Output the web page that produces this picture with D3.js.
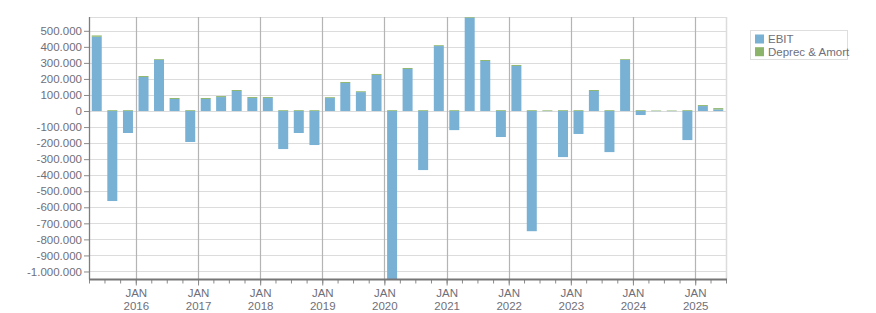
<!DOCTYPE html>
<html>
<head>
<meta charset="utf-8">
<script src="https://cdn.jsdelivr.net/npm/d3@7"></script>
<style>
  body { margin: 0; background: #fff; }
  svg { display: block; font-family: "Liberation Sans", Arial, sans-serif; }
</style>
</head>
<body>
<div id="chart"></div>
<script>
// quarter start of each bar
const quarters = [
  "2015-04", "2015-07", "2015-10",
  "2016-01", "2016-04", "2016-07", "2016-10",
  "2017-01", "2017-04", "2017-07", "2017-10",
  "2018-01", "2018-04", "2018-07", "2018-10",
  "2019-01", "2019-04", "2019-07", "2019-10",
  "2020-01", "2020-04", "2020-07", "2020-10",
  "2021-01", "2021-04", "2021-07", "2021-10",
  "2022-01", "2022-04", "2022-07", "2022-10",
  "2023-01", "2023-04", "2023-07", "2023-10",
  "2024-01", "2024-04", "2024-07", "2024-10",
  "2025-01", "2025-04"
];
const ebit = [
  463000, -561000, -137000,
  212000, 318000, 75000, -193000,
  75000, 87000, 125000, 81000,
  81000, -237000, -137000, -212000,
  81000, 175000, 118000, 225000,
  -1100000, 262000, -368000, 405000,
  -119000, 582000, 312000, -162000,
  281000, -749000, -1000, -287000,
  -143000, 125000, -256000, 318000,
  -25000, -1000, -1000, -181000,
  31000, 10000
];
const deprec = [
  8000, 5000, 5000,
  6000, 5000, 6000, 5000,
  6000, 6000, 6000, 6000,
  6000, 5000, 5000, 5000,
  5000, 6000, 5000, 6000,
  5000, 6000, 5000, 5000,
  5000, 7000, 6000, 5000,
  6000, 5000, 4000, 5000,
  5000, 6000, 5000, 5000,
  5000, 3000, 3000, 5000,
  6000, 8000
];
const seriesNames = ["EBIT", "Deprec & Amort"];
const colors = ["#79b1d4", "#8cb56b"];
const yTicks = [500000, 400000, 300000, 200000, 100000, 0, -100000, -200000, -300000,
  -400000, -500000, -600000, -700000, -800000, -900000, -1000000];

const width = 876, height = 313;
const margin = { top: 17, left: 89, right: 150, bottom: 34 };
const parse = d3.timeParse("%Y-%m");

const rows = quarters.map((q, i) => ({
  date: parse(q),
  "EBIT": ebit[i],
  "Deprec & Amort": deprec[i]
}));

const svg = d3.select("#chart").append("svg")
  .attr("width", width)
  .attr("height", height);

const x = d3.scaleTime()
  .domain([parse("2015-04"), parse("2025-07")])
  .range([margin.left, width - margin.right]);

const y = d3.scaleLinear()
  .domain([-1050000, 586000])
  .range([height - margin.bottom + 0.5, margin.top]);

const fmt = d3.formatLocale({ decimal: ",", thousands: ".", grouping: [3], currency: ["", ""], minus: "-" }).format(",.0f");

// clip
svg.append("clipPath").attr("id", "plot")
  .append("rect")
  .attr("x", margin.left).attr("y", margin.top)
  .attr("width", x.range()[1] - margin.left)
  .attr("height", y.range()[0] - margin.top);

// horizontal grid
svg.append("g")
  .selectAll("line")
  .data(yTicks)
  .join("line")
    .attr("x1", margin.left).attr("x2", x.range()[1])
    .attr("y1", d => Math.round(y(d)) + 0.5).attr("y2", d => Math.round(y(d)) + 0.5)
    .attr("stroke", "#dcdcdc");

// top + right border
svg.append("line")
  .attr("x1", margin.left).attr("x2", x.range()[1])
  .attr("y1", margin.top + 0.5).attr("y2", margin.top + 0.5)
  .attr("stroke", "#dcdcdc");
svg.append("line")
  .attr("x1", x.range()[1] + 0.5).attr("x2", x.range()[1] + 0.5)
  .attr("y1", margin.top).attr("y2", y.range()[0])
  .attr("stroke", "#dcdcdc").attr("stroke-width", 1.5);

// vertical grid at JAN
const years = x.ticks(d3.timeYear.every(1));
svg.append("g")
  .selectAll("line")
  .data(years)
  .join("line")
    .attr("x1", d => Math.round(x(d)) + 0.5).attr("x2", d => Math.round(x(d)) + 0.5)
    .attr("y1", margin.top).attr("y2", y.range()[0])
    .attr("stroke", "#b4b4b4").attr("stroke-width", 1.2);

// bars
const stack = d3.stack().keys(seriesNames).offset(d3.stackOffsetDiverging);
const stacked = stack(rows);
const barW = 10;

svg.append("g")
  .attr("clip-path", "url(#plot)")
  .selectAll("g")
  .data(stacked)
  .join("g")
    .attr("fill", (d, i) => colors[i])
  .selectAll("rect")
  .data(d => d)
  .join("rect")
    .attr("x", d => (x(d.data.date) + x(d3.timeMonth.offset(d.data.date, 3))) / 2 - barW / 2)
    .attr("y", d => y(Math.max(d[0], d[1])))
    .attr("width", barW)
    .attr("height", d => Math.abs(y(d[0]) - y(d[1])));

// y axis
const yAxis = svg.append("g")
  .attr("transform", `translate(${margin.left},0)`)
  .call(d3.axisLeft(y).tickValues(yTicks).tickFormat(fmt).tickSize(5).tickPadding(2));
yAxis.select(".domain").remove();
yAxis.selectAll(".tick line").attr("stroke", "#8a8a8a");
yAxis.selectAll("text").attr("fill", "#6f6f7a").attr("font-size", "11.5px");
svg.append("line")
  .attr("x1", margin.left + 0.5).attr("x2", margin.left + 0.5)
  .attr("y1", margin.top).attr("y2", y.range()[0])
  .attr("stroke", "#7d7d7d").attr("stroke-width", 1.3);

// x axis: quarter minor ticks
const xBase = y.range()[0];
const minor = svg.append("g")
  .attr("transform", `translate(0,${xBase})`)
  .call(d3.axisBottom(x).ticks(d3.timeMonth.every(3)).tickSize(4).tickFormat(""));
minor.select(".domain").remove();
minor.selectAll(".tick line").attr("stroke", "#8a8a8a");

// x axis: years
const major = svg.append("g")
  .attr("transform", `translate(0,${xBase})`)
  .call(d3.axisBottom(x).ticks(d3.timeYear.every(1)).tickSize(6).tickFormat(""));
major.select(".domain").remove();
major.selectAll(".tick line").attr("stroke", "#8a8a8a");
const lab = major.selectAll(".tick").append("text")
  .attr("fill", "#6f6f7a")
  .attr("font-size", "11.5px")
  .attr("text-anchor", "middle");
lab.append("tspan").attr("x", 0).attr("y", 17.5).text("JAN");
lab.append("tspan").attr("x", 0).attr("y", 30).text(d => d3.timeFormat("%Y")(d));

svg.append("line")
  .attr("x1", margin.left).attr("x2", x.range()[1] + 1)
  .attr("y1", xBase).attr("y2", xBase)
  .attr("stroke", "#777").attr("stroke-width", 2);

// legend
const legend = svg.append("g").attr("transform", "translate(750.5,30.5)");
legend.append("rect")
  .attr("width", 97).attr("height", 29)
  .attr("fill", "#fff").attr("stroke", "#dedede");
legend.selectAll("g")
  .data(seriesNames)
  .join("g")
    .attr("transform", (d, i) => `translate(4.5,${4 + i * 12.7})`)
    .call(g => g.append("rect").attr("width", 9).attr("height", 9).attr("fill", (d, i) => colors[i]))
    .call(g => g.append("text").attr("x", 13).attr("y", 8.8)
      .attr("fill", "#6f6f7a").attr("font-size", "11.5px").text(d => d));
</script>
</body>
</html>
